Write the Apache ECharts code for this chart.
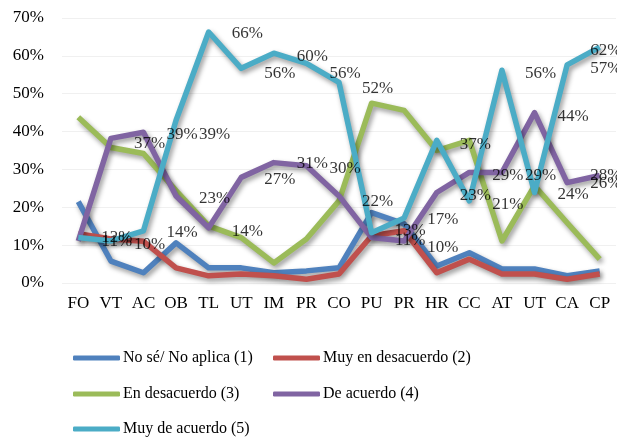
<!DOCTYPE html>
<html>
<head>
<meta charset="utf-8">
<script src="https://cdn.jsdelivr.net/npm/echarts@6/dist/echarts.min.js"></script>
<style>html,body{margin:0;padding:0;background:#fff;}#c{width:617px;height:441px;}</style>
</head>
<body>
<div id="c"></div>
<script>
var categories = ['FO','VT','AC','OB','TL','UT','IM','PR','CO','PU','PR','HR','CC','AT','UT','CA','CP'];
var seriesNames = ['No sé/ No aplica (1)','Muy en desacuerdo (2)','En desacuerdo (3)','De acuerdo (4)','Muy de acuerdo (5)'];
var noSe        = [21.5, 5.8, 2.7, 10.6, 4.0, 4.0, 2.7, 3.2, 4.0, 18.6, 15.6, 4.5, 8.0, 3.7, 3.7, 1.9, 3.2];
var muyDesac    = [13.0, 11.6, 11.0, 4.0, 1.9, 2.4, 1.9, 1.0, 2.4, 12.5, 13.8, 2.7, 6.3, 2.4, 2.4, 1.0, 2.4];
var desac       = [43.8, 35.8, 34.2, 24.4, 15.1, 12.0, 5.3, 11.6, 21.7, 47.5, 45.6, 35.0, 37.7, 11.1, 25.7, 15.9, 6.3];
var deAcuerdo   = [11.1, 38.2, 39.8, 23.0, 14.6, 27.9, 31.8, 31.0, 23.0, 12.0, 11.1, 23.9, 29.2, 29.2, 45.0, 26.5, 28.4];
var muyAcuerdo  = [12.0, 11.1, 13.8, 43.0, 66.3, 56.7, 60.7, 58.0, 53.0, 13.3, 17.2, 37.7, 21.7, 56.2, 23.9, 57.6, 62.3];
var yTicks = [0, 10, 20, 30, 40, 50, 60, 70];

// data labels as they appear on the chart: category index, value position, text
var labelCats   = [5, 6, 7, 8, 9, 3, 4, 2, 7, 8, 6, 4, 3, 5, 1, 1, 2, 9, 10, 10, 11, 11, 12, 12, 13, 13, 14, 14, 15, 15, 16, 16, 16, 16];
var labelVals   = [65.8, 55.4, 59.9, 55.4, 51.5, 39.2, 39.2, 36.9, 31.6, 30.2, 27.3, 22.3, 13.3, 13.5, 11.9, 10.9, 10.1, 21.5, 13.8, 11.1, 16.7, 9.5, 36.6, 23.0, 28.4, 20.7, 28.4, 55.4, 44.0, 23.3, 61.5, 56.7, 28.4, 26.3];
var labelTexts  = ['66%','56%','60%','56%','52%','39%','39%','37%','31%','30%','27%','23%','14%','14%','12%','11%','10%','22%','13%','11%','17%','10%','37%','23%','29%','21%','29%','56%','44%','24%','62%','57%','28%','26%'];

var colors = ['#4F81BD','#C0504D','#9BBB59','#8064A2','#4BACC6'];
var allValues = [noSe, muyDesac, desac, deAcuerdo, muyAcuerdo];
var FONT = '"Liberation Serif", "Times New Roman", serif';

var chart = echarts.init(document.getElementById('c'), null, {renderer: 'canvas'});
var series = allValues.map(function (vals, i) {
  return {
    name: seriesNames[i],
    type: 'line',
    data: vals,
    symbol: 'none',
    smooth: false,
    z: 2 + i,
    lineStyle: {
      width: 5.5, color: colors[i], join: 'round',
      shadowColor: 'rgba(0,0,0,0.4)', shadowBlur: 5, shadowOffsetX: 2, shadowOffsetY: 3
    },
    itemStyle: {color: colors[i]}
  };
});
series.push({
  type: 'scatter',
  symbolSize: 0,
  z: 20,
  silent: true,
  data: labelCats.map(function (c, i) { return [c, labelVals[i], labelTexts[i]]; }),
  label: {
    show: true, position: 'inside', offset: [6, 0],
    formatter: function (p) { return p.data[2]; },
    color: '#000', fontFamily: FONT, fontSize: 17
  }
});

var legendTops = [350, 350, 386, 386, 421];
var legendLefts = [73, 273, 73, 273, 73];
var legends = seriesNames.map(function (n, i) {
  return {
    data: [n], left: legendLefts[i], top: legendTops[i],
    icon: 'roundRect', itemWidth: 47, itemHeight: 5, padding: 0,
    textStyle: {fontFamily: FONT, fontSize: 16, color: '#000', padding: [0, 0, 0, -2]},
    selectedMode: false
  };
});

chart.setOption({
  animation: false,
  color: colors,
  grid: {left: 62, right: 1, top: 18, bottom: 158},
  legend: legends,
  xAxis: {
    type: 'category', data: categories, boundaryGap: true,
    axisLine: {show: false}, axisTick: {show: false},
    axisLabel: {fontFamily: FONT, fontSize: 17, color: '#000', margin: 12, interval: 0}
  },
  yAxis: {
    type: 'value', min: yTicks[0], max: yTicks[yTicks.length - 1], interval: 10,
    axisLine: {show: false}, axisTick: {show: false},
    axisLabel: {fontFamily: FONT, fontSize: 17, color: '#000', margin: 18, formatter: '{value}%'},
    splitLine: {lineStyle: {color: '#f0f0f0', width: 1}}
  },
  series: series
});
</script>
</body>
</html>
